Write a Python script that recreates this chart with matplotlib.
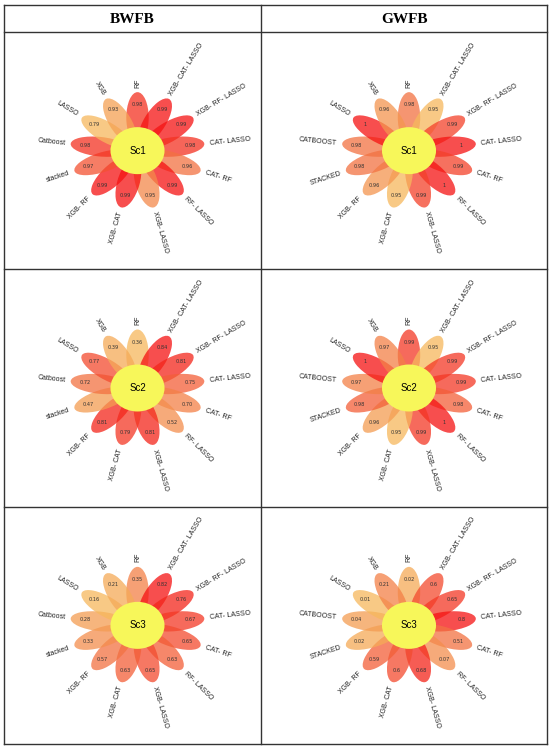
import numpy as np
import pandas as pd
import matplotlib
matplotlib.use("Agg")
import matplotlib.pyplot as plt
from matplotlib.patches import Ellipse
from matplotlib.colors import LinearSegmentedColormap

# petal labels, clockwise from the top
labels_bw = ['RF', 'XGB- CAT- LASSO', 'XGB- RF- LASSO', 'CAT- LASSO', 'CAT- RF', 'RF- LASSO',
             'XGB- LASSO', 'XGB- CAT', 'XGB- RF', 'stacked', 'Catboost', 'LASSO', 'XGB']
labels_gw = ['RF', 'XGB- CAT- LASSO', 'XGB- RF- LASSO', 'CAT- LASSO', 'CAT- RF', 'RF- LASSO',
             'XGB- LASSO', 'XGB- CAT', 'XGB- RF', 'STACKED', 'CATBOOST', 'LASSO', 'XGB']

columns = ['BWFB', 'GWFB']
scenarios = ['Sc1', 'Sc2', 'Sc3']

bw_sc1 = [0.98, 0.99, 0.99, 0.98, 0.96, 0.99, 0.95, 0.99, 0.99, 0.97, 0.98, 0.79, 0.93]
bw_sc2 = [0.36, 0.84, 0.81, 0.75, 0.70, 0.52, 0.81, 0.79, 0.81, 0.47, 0.72, 0.77, 0.39]
bw_sc3 = [0.35, 0.82, 0.76, 0.67, 0.65, 0.63, 0.65, 0.63, 0.57, 0.33, 0.28, 0.16, 0.21]
gw_sc1 = [0.98, 0.95, 0.99, 1, 0.99, 1, 0.99, 0.95, 0.96, 0.98, 0.98, 1, 0.96]
gw_sc2 = [0.99, 0.95, 0.99, 0.99, 0.98, 1, 0.99, 0.95, 0.96, 0.98, 0.97, 1, 0.97]
gw_sc3 = [0.02, 0.6, 0.65, 0.8, 0.51, 0.07, 0.68, 0.6, 0.59, 0.02, 0.04, 0.01, 0.21]

data = {('BWFB', 'Sc1'): bw_sc1, ('BWFB', 'Sc2'): bw_sc2, ('BWFB', 'Sc3'): bw_sc3,
        ('GWFB', 'Sc1'): gw_sc1, ('GWFB', 'Sc2'): gw_sc2, ('GWFB', 'Sc3'): gw_sc3}

cmap = LinearSegmentedColormap.from_list('petal', ['#F6B85C', '#F27242', '#F51212'])

W, H = 550, 751
fig = plt.figure(figsize=(5.5, 7.51), dpi=100)
fig.patch.set_facecolor('white')

# table grid
xs = [4, 261, 547]
ys = [5, 32, 269.3, 506.7, 744]
bg = fig.add_axes([0, 0, 1, 1])
bg.set_xlim(0, W)
bg.set_ylim(H, 0)
bg.axis('off')
for x in xs:
    bg.plot([x, x], [ys[0], ys[-1]], color='#333333', lw=1)
for y in ys:
    bg.plot([xs[0], xs[-1]], [y, y], color='#333333', lw=1)
for j, col in enumerate(columns):
    bg.text((xs[j] + xs[j + 1]) / 2, (ys[0] + ys[1]) / 2 + 1, col, ha='center', va='center',
            fontsize=11, fontweight='bold', family='Liberation Serif')

sx = 1.15  # horizontal stretch of the flowers
n = len(labels_bw)
angles = 90 - np.arange(n) * 360 / n

for j, col in enumerate(columns):
    labels = labels_bw if col == 'BWFB' else labels_gw
    for i, sc in enumerate(scenarios):
        x0, x1 = xs[j], xs[j + 1]
        y0, y1 = ys[i + 1], ys[i + 2]
        cx = (x0 + x1) / 2 + 5
        cy = (y0 + y1) / 2
        ax = fig.add_axes([x0 / W, 1 - y1 / H, (x1 - x0) / W, (y1 - y0) / H])
        ax.set_xlim((x0 - cx) / sx, (x1 - cx) / sx)
        ax.set_ylim(-(y1 - cy), cy - y0)
        ax.axis('off')

        vals = pd.Series(data[(col, sc)])
        rk = vals.rank(method='dense')
        norm = (rk - rk.min()) / max(rk.max() - rk.min(), 1)

        for k in range(n):
            a = np.deg2rad(angles[k])
            ca, sa = np.cos(a), np.sin(a)
            ax.add_patch(Ellipse((33 * ca, 33 * sa), 51, 19.5, angle=angles[k],
                                 facecolor=cmap(norm[k]), edgecolor='none', alpha=0.75))
        for k in range(n):
            a = np.deg2rad(angles[k])
            ca, sa = np.cos(a), np.sin(a)
            v = vals[k]
            vtxt = f'{v:.2f}' if col == 'BWFB' else f'{v:g}'
            ax.text(46 * ca, 46 * sa, vtxt, ha='center', va='center', fontsize=3.6,
                    color='#333333', zorder=5)
            disp = np.rad2deg(np.arctan2(sa, sx * ca))
            if -90.5 <= disp <= 90.5:
                rot, ha = disp, 'left'
            else:
                rot, ha = disp - 180, 'right'
            ax.text(63 * ca, 63 * sa, labels[k], ha=ha, va='center', rotation=rot,
                    rotation_mode='anchor', fontsize=5, family='Liberation Sans',
                    color='#222222')
        ax.add_patch(Ellipse((0, 0), 47, 47, facecolor='#F7F75A', edgecolor='none', zorder=4))
        ax.text(0, 0, sc, ha='center', va='center', fontsize=7, family='Liberation Sans',
                zorder=6)

fig.savefig('out.png', dpi=100)
